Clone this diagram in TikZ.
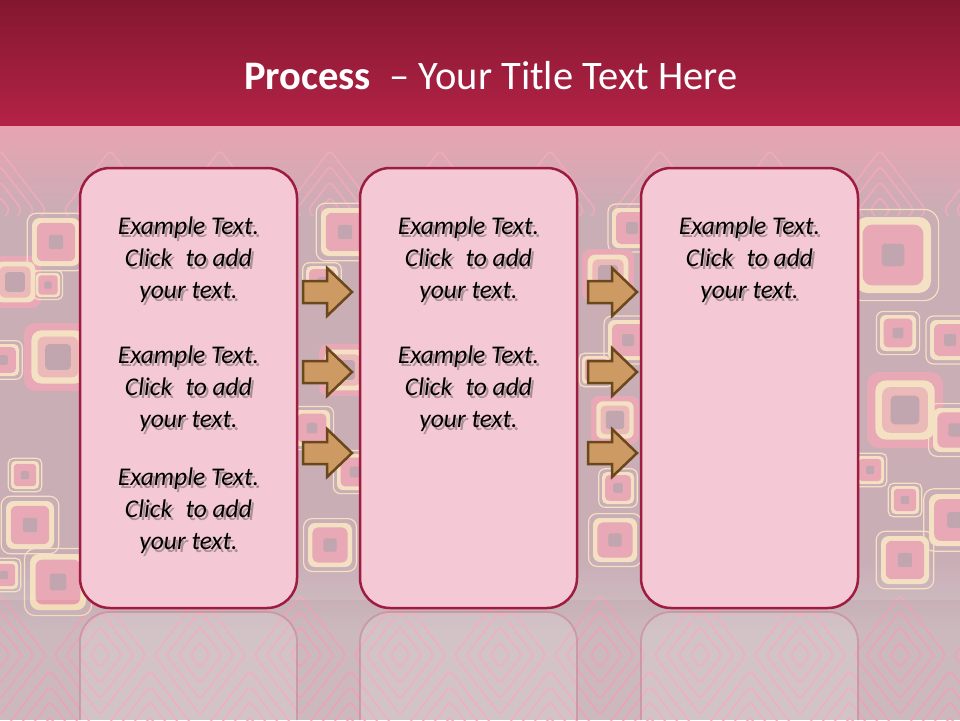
\documentclass[tikz,border=0pt]{standalone}
\usepackage{fontspec}
\setmainfont{Carlito}
\definecolor{bandtop}{HTML}{83172F}
\definecolor{bandbot}{HTML}{B42347}
\definecolor{transc}{HTML}{E597A6}
\definecolor{midbg}{HTML}{C2A3AD}
\definecolor{botbg}{HTML}{CBB9BE}
\definecolor{cream}{HTML}{F3DCBA}
\definecolor{pinksq}{HTML}{E59DAB}
\definecolor{greysq}{HTML}{B999A4}
\definecolor{diam}{HTML}{F2A0B3}
\definecolor{boxline}{HTML}{9E1C40}
\definecolor{boxfill}{HTML}{F4C9D5}
\definecolor{shadowc}{HTML}{A98F98}
\definecolor{arrfill}{HTML}{CC9A62}
\definecolor{arrline}{HTML}{6B471C}
\newcommand\rsqA[3]{%
  \draw[cream, line width=1.2pt, rounded corners={0.32*#3*1.2pt}] ({#1-1.2*#3},{#2-1.2*#3}) rectangle ({#1+1.2*#3},{#2+1.2*#3});
  \fill[cream, rounded corners={0.32*#3 pt}] ({#1-#3},{#2-#3}) rectangle ({#1+#3},{#2+#3});
  \fill[pinksq, rounded corners={0.25*#3 pt}] ({#1-0.8*#3},{#2-0.8*#3}) rectangle ({#1+0.8*#3},{#2+0.8*#3});
  \fill[greysq, rounded corners={0.1*#3 pt}] ({#1-0.3*#3},{#2-0.3*#3}) rectangle ({#1+0.3*#3},{#2+0.3*#3});}
\newcommand\rsqB[3]{%
  \fill[pinksq, rounded corners={0.32*#3 pt}] ({#1-#3},{#2-#3}) rectangle ({#1+#3},{#2+#3});
  \fill[cream, rounded corners={0.28*#3 pt}] ({#1-0.78*#3},{#2-0.78*#3}) rectangle ({#1+0.78*#3},{#2+0.78*#3});
  \fill[pinksq!70!cream, rounded corners={0.2*#3 pt}] ({#1-0.6*#3},{#2-0.6*#3}) rectangle ({#1+0.6*#3},{#2+0.6*#3});
  \fill[greysq, rounded corners={0.12*#3 pt}] ({#1-0.38*#3},{#2-0.38*#3}) rectangle ({#1+0.38*#3},{#2+0.38*#3});}
\newcommand\diamonds[2]{%
  \foreach \s in {10,22,34,46}{
    \draw[diam, line width=1.6pt, opacity=.85, rounded corners=4pt] ({#1-\s},#2) -- (#1,{#2-1.3*\s}) -- ({#1+\s},#2) -- (#1,{#2+1.3*\s}) -- cycle;}}
\newcommand\parrow[2]{%
  \filldraw[fill=arrfill, draw=arrline, line width=2.5pt, line join=miter]
    ({#1-24},{#2-11}) -- (#1,{#2-11}) -- (#1,{#2-24}) -- ({#1+25},#2) -- (#1,{#2+24}) -- (#1,{#2+11}) -- ({#1-24},{#2+11}) -- cycle;}
\newcommand\shl[1]{\rlap{\raisebox{-3pt}{\kern2.5pt\textcolor{shadowc}{#1}}}#1}
\tikzset{
  box/.style={draw=boxline, fill=boxfill, line width=2.5pt, rounded corners=30pt, minimum width=217pt, minimum height=440pt, inner sep=0pt},
  refl/.style={draw=boxline!55!white, draw opacity=.6, line width=1.8pt, fill=white, fill opacity=.15, rounded corners=30pt},
  txt/.style={font=\fontsize{25.5}{32}\selectfont\itshape, align=center, text=black, inner sep=0pt},
}
\newcommand\shtext[3]{%
  \node[txt] (#1) at (#2,#3) {\shl{Example Text.}\\\shl{Click\hspace{0.3em} to add}\\\shl{your text.}};}
\begin{document}
\begin{tikzpicture}[x=1pt,y=-1pt]
\useasboundingbox (0,0) rectangle (960,720);
% background
\fill[midbg] (0,120) rectangle (960,720);
\shade[top color=bandtop, bottom color=bandbot] (0,0) rectangle (960,126);
\shade[top color=transc, bottom color=midbg] (0,126) rectangle (960,215);
\shade[top color=midbg, bottom color=botbg] (0,560) rectangle (960,630);
\fill[botbg] (0,630) rectangle (960,720);
\begin{scope}
  \clip (0,585) rectangle (960,720);
  \foreach \cx in {0,100,...,1000}{\diamonds{\cx}{655}}
  \foreach \cx in {50,150,...,1000}{\diamonds{\cx}{730}}
\end{scope}
\begin{scope}
  \clip (0,128) rectangle (960,215);
  \foreach \cx in {0,110,...,1000}{\diamonds{\cx}{210}}
\end{scope}
% pattern squares
\rsqB{15}{282}{26}
\rsqA{56}{242}{24}
\rsqA{48}{285}{12}
\rsqB{58}{357}{34}
\rsqA{3}{360}{16}
\rsqA{25}{475}{14}
\rsqA{30}{525}{24}
\rsqA{58}{582}{28}
\rsqA{4}{575}{14}
\rsqA{345}{232}{24}
\rsqA{322}{282}{16}
\rsqB{345}{370}{26}
\rsqA{312}{428}{18}
\rsqA{355}{472}{18}
\rsqA{330}{545}{22}
\rsqA{632}{228}{20}
\rsqB{608}{275}{26}
\rsqA{628}{340}{20}
\rsqA{596}{370}{14}
\rsqB{615}{420}{24}
\rsqA{618}{488}{16}
\rsqA{615}{540}{22}
\rsqA{893}{255}{38}
\rsqA{898}{333}{18}
\rsqA{950}{340}{20}
\rsqB{905}{410}{38}
\rsqA{955}{430}{22}
\rsqA{905}{500}{14}
\rsqA{955}{520}{26}
\rsqA{905}{560}{24}
\rsqA{870}{470}{14}
% wash over the pattern
\fill[white, opacity=.12] (0,126) rectangle (960,600);
% reflections
\path[refl] (80,720) -- (80,612) -- (297,612) -- (297,720);
\path[refl] (360,720) -- (360,612) -- (577,612) -- (577,720);
\path[refl] (641,720) -- (641,612) -- (858,612) -- (858,720);
% title
\node[text=white, font=\fontsize{40.5}{46}\selectfont, inner sep=0pt] (title) at (491,76) {\textbf{Process}\hspace{0.45em}– Your Title Text Here};
% boxes
\node[box] (b1) at (188.5,388) {};
\node[box] (b2) at (468.5,388) {};
\node[box] (b3) at (749.5,388) {};
% texts
\shtext{t11}{188.5}{261}
\shtext{t12}{188.5}{390}
\shtext{t13}{188.5}{512}
\shtext{t21}{468.5}{261}
\shtext{t22}{468.5}{390}
\shtext{t31}{749.5}{261}
% arrows
\parrow{327}{292}
\parrow{327}{372}
\parrow{327}{453}
\parrow{612}{292}
\parrow{612}{372}
\parrow{612}{453}
\end{tikzpicture}
\end{document}
